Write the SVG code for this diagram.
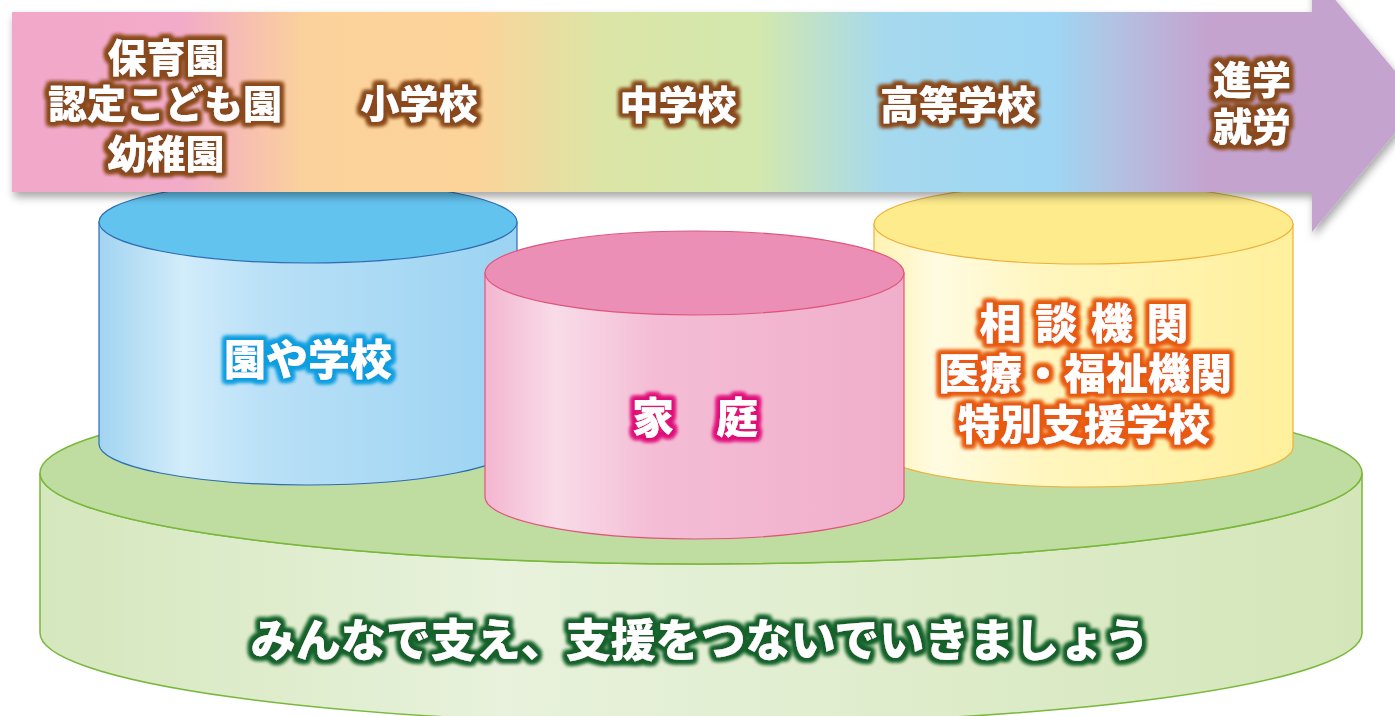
<svg xmlns="http://www.w3.org/2000/svg" width="1395" height="716" viewBox="0 0 1395 716">
<defs>
<style>
.t{font-family:"Noto Sans CJK JP","Noto Sans CJK SC",sans-serif;font-weight:900;fill:#ffffff;text-anchor:middle;dominant-baseline:central}
.a{font-size:39px;filter:url(#gBrown)}
.c{font-size:42px}
</style>
<linearGradient id="arrowGrad" gradientUnits="userSpaceOnUse" x1="12" y1="0" x2="1420" y2="0">
<stop offset="0" stop-color="#f2a8c9"/>
<stop offset="0.12" stop-color="#f2abc8"/>
<stop offset="0.21" stop-color="#fbd29b"/>
<stop offset="0.33" stop-color="#fcd49a"/>
<stop offset="0.42" stop-color="#dbe5a6"/>
<stop offset="0.53" stop-color="#d3e8ae"/>
<stop offset="0.62" stop-color="#a6d9ee"/>
<stop offset="0.74" stop-color="#9ed6f4"/>
<stop offset="0.78" stop-color="#b2c3e3"/>
<stop offset="0.85" stop-color="#c4a3cf"/>
<stop offset="1" stop-color="#c4a3cf"/>
</linearGradient>
<linearGradient id="blueSide" x1="0" y1="0" x2="1" y2="0">
<stop offset="0" stop-color="#a2d4f1"/>
<stop offset="0.2" stop-color="#d2ecfa"/>
<stop offset="0.4" stop-color="#b9e0f7"/>
<stop offset="1" stop-color="#9bd3f2"/>
</linearGradient>
<linearGradient id="pinkSide" x1="0" y1="0" x2="1" y2="0">
<stop offset="0" stop-color="#f3b6d0"/>
<stop offset="0.17" stop-color="#f9dce8"/>
<stop offset="0.4" stop-color="#f4bdd5"/>
<stop offset="1" stop-color="#f0aecb"/>
</linearGradient>
<linearGradient id="yellowSide" x1="0" y1="0" x2="1" y2="0">
<stop offset="0" stop-color="#fff3b2"/>
<stop offset="0.15" stop-color="#fffbe2"/>
<stop offset="0.4" stop-color="#fff6bf"/>
<stop offset="1" stop-color="#fff09c"/>
</linearGradient>
<linearGradient id="greenSide" x1="0" y1="0" x2="1" y2="0">
<stop offset="0" stop-color="#d5e7bd"/>
<stop offset="0.35" stop-color="#e8f2dc"/>
<stop offset="1" stop-color="#d4e6b9"/>
</linearGradient>
<filter id="shadow" x="-5%" y="-20%" width="110%" height="150%">
<feDropShadow dx="2" dy="5" stdDeviation="4" flood-color="#000" flood-opacity="0.35"/>
</filter>
<filter id="gBrown" x="-20%" y="-30%" width="140%" height="160%">
<feMorphology in="SourceAlpha" operator="dilate" radius="3" result="d"/>
<feGaussianBlur in="d" stdDeviation="2" result="b"/>
<feFlood flood-color="#8a4a1e"/>
<feComposite operator="in" in2="b" result="g"/>
<feMerge><feMergeNode in="g"/><feMergeNode in="g"/><feMergeNode in="g"/><feMergeNode in="SourceGraphic"/></feMerge>
</filter>
<filter id="gBlue" x="-20%" y="-50%" width="140%" height="200%">
<feMorphology in="SourceAlpha" operator="dilate" radius="3" result="d"/>
<feGaussianBlur in="d" stdDeviation="2" result="b"/>
<feFlood flood-color="#0f9ee0"/>
<feComposite operator="in" in2="b" result="g"/>
<feMerge><feMergeNode in="g"/><feMergeNode in="g"/><feMergeNode in="g"/><feMergeNode in="SourceGraphic"/></feMerge>
</filter>
<filter id="gPink" x="-20%" y="-50%" width="140%" height="200%">
<feMorphology in="SourceAlpha" operator="dilate" radius="3" result="d"/>
<feGaussianBlur in="d" stdDeviation="2" result="b"/>
<feFlood flood-color="#e0127a"/>
<feComposite operator="in" in2="b" result="g"/>
<feMerge><feMergeNode in="g"/><feMergeNode in="g"/><feMergeNode in="g"/><feMergeNode in="SourceGraphic"/></feMerge>
</filter>
<filter id="gOrange" x="-20%" y="-30%" width="140%" height="160%">
<feMorphology in="SourceAlpha" operator="dilate" radius="3" result="d"/>
<feGaussianBlur in="d" stdDeviation="2" result="b"/>
<feFlood flood-color="#e85a12"/>
<feComposite operator="in" in2="b" result="g"/>
<feMerge><feMergeNode in="g"/><feMergeNode in="g"/><feMergeNode in="g"/><feMergeNode in="SourceGraphic"/></feMerge>
</filter>
<filter id="gGreen" x="-10%" y="-50%" width="120%" height="200%">
<feMorphology in="SourceAlpha" operator="dilate" radius="3" result="d"/>
<feGaussianBlur in="d" stdDeviation="2" result="b"/>
<feFlood flood-color="#16612c"/>
<feComposite operator="in" in2="b" result="g"/>
<feMerge><feMergeNode in="g"/><feMergeNode in="g"/><feMergeNode in="g"/><feMergeNode in="SourceGraphic"/></feMerge>
</filter>
</defs>
<rect width="1395" height="716" fill="#ffffff"/>

<g id="base">
<path d="M40,473 V633 A661,91 0 0 0 1362,633 V473 A661,91 0 0 1 40,473 Z" fill="url(#greenSide)" stroke="#78b83a" stroke-width="1.5"/>
<ellipse cx="701" cy="473" rx="661" ry="91" fill="#bfdca1" stroke="#78b83a" stroke-width="1.5"/>
<text class="t" x="700" y="637" font-size="45" filter="url(#gGreen)">みんなで支え、支援をつないでいきましょう</text>
</g>

<g id="school">
<path d="M99,222 V444 A209,41 0 0 0 517,444 V222 Z" fill="url(#blueSide)" stroke="#2f6db3" stroke-width="1.2"/>
<ellipse cx="308" cy="222" rx="209" ry="41" fill="#63c3ef" stroke="#2f6db3" stroke-width="1.2"/>
<text class="t c" x="308" y="356" filter="url(#gBlue)">園や学校</text>
</g>

<g id="agencies">
<path d="M874,224 V447 A209.5,40 0 0 0 1293,447 V224 Z" fill="url(#yellowSide)" stroke="#eeb03a" stroke-width="1.2"/>
<ellipse cx="1083.5" cy="224" rx="209.5" ry="40" fill="#fdeb8c" stroke="#eeb03a" stroke-width="1.2"/>
<text class="t c" filter="url(#gOrange)"><tspan x="1085" y="320" letter-spacing="2">相 談 機 関</tspan><tspan x="1085" y="370" letter-spacing="0">医療・福祉機関</tspan><tspan x="1084" y="421" letter-spacing="0">特別支援学校</tspan></text>
</g>

<g id="home">
<path d="M485,273 V497 A209.5,42 0 0 0 904,497 V273 Z" fill="url(#pinkSide)" stroke="#e0557a" stroke-width="1.2"/>
<ellipse cx="694.5" cy="273" rx="209.5" ry="42" fill="#ec8fb6" stroke="#e0557a" stroke-width="1.2"/>
<text class="t c" x="695" y="414" filter="url(#gPink)">家　庭</text>
</g>

<g id="timeline">
<path d="M12,12 H1312 V-28 L1421,102 L1312,232 V192 H12 Z" fill="url(#arrowGrad)" filter="url(#shadow)"/>
<text class="t a"><tspan x="166" y="55">保育園</tspan><tspan x="165" y="101">認定こども園</tspan><tspan x="166" y="151">幼稚園</tspan></text>
<text class="t a" x="419" y="101">小学校</text>
<text class="t a" x="678" y="102">中学校</text>
<text class="t a" x="958" y="102">高等学校</text>
<text class="t a"><tspan x="1252" y="77">進学</tspan><tspan x="1252" y="124">就労</tspan></text>
</g>

<g id="connectors"></g>
</svg>
